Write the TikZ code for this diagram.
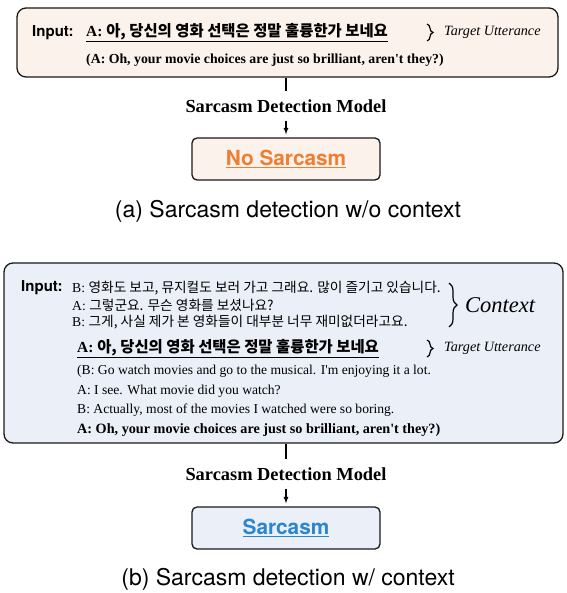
\documentclass[tikz,border=0pt]{standalone}
\usepackage{fontspec}
\setmainfont[Ligatures=TeXOff]{Liberation Serif}
\newfontfamily\hv{TeX Gyre Heros}
\newfontfamily\kr{Noto Sans CJK KR}
\usetikzlibrary{decorations.pathreplacing}
\definecolor{peach}{HTML}{FCF2EC}
\definecolor{icy}{HTML}{EBEFF8}
\definecolor{tangerine}{HTML}{EE7E33}
\definecolor{sky}{HTML}{2A86D0}

\begin{document}
\begin{tikzpicture}[x=1pt,y=-1pt,
  panel/.style={draw=black!90, line width=1.3pt, rounded corners=9pt, inner sep=0pt},
  result/.style={draw=black!90, line width=1.3pt, rounded corners=5pt, minimum width=188pt,
    minimum height=42pt, font=\hv\bfseries\fontsize{20.8}{22}\selectfont},
  txt/.style={anchor=west, inner sep=0pt},
  eng/.style={txt, font=\fontsize{13.6}{15}\selectfont},
  engb/.style={txt, font=\bfseries\fontsize{14.2}{15}\selectfont},
  krl/.style={txt, font=\fontsize{13.7}{15}\selectfont},
  krb/.style={txt, font=\bfseries\fontsize{15.4}{16}\selectfont},
  inlabel/.style={txt, font=\hv\bfseries\fontsize{15}{16}\selectfont},
  tag/.style={txt, font=\itshape\fontsize{14.2}{15}\selectfont},
  model/.style={font=\bfseries\fontsize{18.4}{19}\selectfont, inner xsep=0pt, inner ysep=8pt},
  caption/.style={font=\hv\fontsize{23}{25}\selectfont},
  curly/.style={decorate, decoration={brace, amplitude=6pt}, line width=1.2pt},
  link/.style={line width=1.2pt}]
\useasboundingbox (0,0) rectangle (566,593);

%% (a) without context
\node[panel, fill=peach, minimum width=541pt, minimum height=69pt] (boxA) at (287.5,42.5) {};
\node[inlabel] (inA) at (32,33) {Input:};
\node[krb] (uttA) at (86,33)
  {\underline{A: {\kr 아, 당신의 영화 선택은 정말 훌륭한가 보네요}}};
\node[engb, font=\bfseries\fontsize{13.8}{15}\selectfont] (trA) at (86,60)
  {(A: Oh, your movie choices are just so brilliant, aren't they?)};
\coordinate (bA1) at (427,24);
\coordinate (bA2) at (427,41);
\draw[curly] (bA1) -- (bA2);
\node[tag] (tagA) at (444,32) {Target Utterance};

\node[model] (modelA) at (286,106) {Sarcasm Detection Model};
\node[result, fill=peach, text=tangerine] (outA) at (286,159) {\underline{No Sarcasm}};
\node[caption] (capA) at (288,211) {(a) Sarcasm detection w/o context};

\draw[link] (modelA.north |- boxA.south) -- (modelA.north);
\draw[link, -latex, shorten >=3pt] (modelA.south) -- (outA.north);

%% (b) with context
\node[panel, fill=icy, minimum width=559pt, minimum height=180pt] (boxB) at (283.5,353) {};
\node[inlabel] (inB) at (21,288) {Input:};
\node[krl] (ctx1) at (72,288) {B: {\kr 영화도 보고, 뮤지컬도 보러 가고 그래요. 많이 즐기고 있습니다.}};
\node[krl] (ctx2) at (72,305) {A: {\kr 그렇군요. 무슨 영화를 보셨나요?}};
\node[krl] (ctx3) at (72,322) {B: {\kr 그게, 사실 제가 본 영화들이 대부분 너무 재미없더라고요.}};
\coordinate (bC1) at (449,283);
\coordinate (bC2) at (449,327);
\draw[curly, decoration={amplitude=8pt}] (bC1) -- (bC2);
\node[txt, font=\itshape\fontsize{22.5}{24}\selectfont] (ctxTag) at (465,305) {Context};

\node[krb] (uttB) at (77,349)
  {\underline{A: {\kr 아, 당신의 영화 선택은 정말 훌륭한가 보네요}}};
\coordinate (bB1) at (427,340);
\coordinate (bB2) at (427,357);
\draw[curly] (bB1) -- (bB2);
\node[tag] (tagB) at (444,348) {Target Utterance};

\node[eng] (enB1) at (77,371) {(B: Go watch movies and go to the musical. I'm enjoying it a lot.};
\node[eng] (enB2) at (77,391) {A: I see. What movie did you watch?};
\node[eng] (enB3) at (77,410) {B: Actually, most of the movies I watched were so boring.};
\node[engb] (enB4) at (77,430) {A: Oh, your movie choices are just so brilliant, aren't they?)};

\node[model] (modelB) at (286,474) {Sarcasm Detection Model};
\node[result, fill=icy, text=sky] (outB) at (286,528) {\underline{Sarcasm}};
\node[caption] (capB) at (288,579) {(b) Sarcasm detection w/ context};

\draw[link] (modelB.north |- boxB.south) -- (modelB.north);
\draw[link, -latex, shorten >=3pt] (modelB.south) -- (outB.north);
\end{tikzpicture}
\end{document}
